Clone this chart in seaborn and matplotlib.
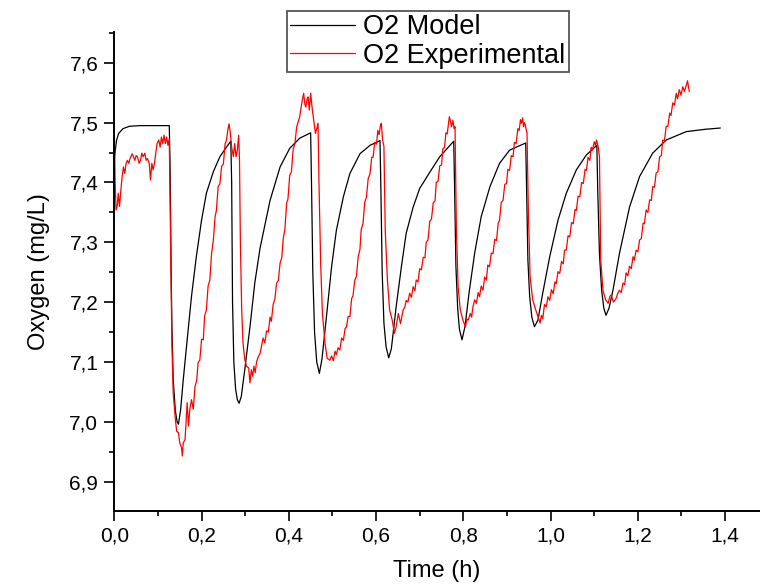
import numpy as np
import pandas as pd
import seaborn as sns
import matplotlib
matplotlib.use("Agg")
from matplotlib import pyplot as plt
from matplotlib.ticker import FuncFormatter, MultipleLocator

# O2 model (time in h, oxygen in mg/L)
model_t = [0.0, 0.005, 0.01, 0.02, 0.035, 0.06, 0.09, 0.126, 0.128, 0.130, 0.132, 0.135, 0.140, 0.144,
           0.147, 0.152, 0.158, 0.167, 0.177, 0.188, 0.200, 0.211, 0.227, 0.242, 0.257, 0.267, 0.269,
           0.271, 0.274, 0.278, 0.282, 0.286, 0.291, 0.299, 0.311, 0.322, 0.334, 0.357, 0.380, 0.402,
           0.425, 0.450, 0.452, 0.455, 0.459, 0.464, 0.470, 0.476, 0.487, 0.498, 0.509, 0.525, 0.540,
           0.563, 0.586, 0.609, 0.611, 0.614, 0.618, 0.623, 0.629, 0.635, 0.646, 0.658, 0.669, 0.685,
           0.700, 0.723, 0.746, 0.778, 0.780, 0.783, 0.787, 0.791, 0.797, 0.804, 0.813, 0.826, 0.841,
           0.861, 0.883, 0.906, 0.943, 0.945, 0.948, 0.952, 0.957, 0.963, 0.971, 0.982, 0.998, 1.017,
           1.036, 1.059, 1.082, 1.106, 1.108, 1.112, 1.117, 1.122, 1.127, 1.134, 1.143, 1.158, 1.181,
           1.204, 1.234, 1.265, 1.311, 1.356, 1.389]
model_o2 = [7.44, 7.47, 7.482, 7.49, 7.494, 7.495, 7.495, 7.495, 7.42, 7.27, 7.16, 7.07, 7.018, 7.0,
            6.996, 7.02, 7.07, 7.137, 7.21, 7.276, 7.337, 7.382, 7.418, 7.443, 7.459, 7.469, 7.40,
            7.20, 7.10, 7.055, 7.037, 7.031, 7.042, 7.087, 7.159, 7.232, 7.29, 7.37, 7.426, 7.457,
            7.474, 7.483, 7.40, 7.25, 7.15, 7.10, 7.081, 7.105, 7.181, 7.259, 7.32, 7.376, 7.415,
            7.448, 7.462, 7.470, 7.39, 7.25, 7.165, 7.125, 7.107, 7.122, 7.192, 7.259, 7.315, 7.359,
            7.39, 7.417, 7.443, 7.469, 7.39, 7.26, 7.19, 7.155, 7.137, 7.16, 7.215, 7.282, 7.343,
            7.393, 7.432, 7.454, 7.466, 7.39, 7.27, 7.21, 7.175, 7.159, 7.17, 7.215, 7.276, 7.337,
            7.382, 7.421, 7.446, 7.462, 7.39, 7.28, 7.22, 7.19, 7.178, 7.19, 7.22, 7.282, 7.359,
            7.41, 7.449, 7.471, 7.485, 7.489, 7.491]

# O2 experimental
exp_t = [0.000, 0.002, 0.004, 0.007, 0.009, 0.012, 0.015, 0.018, 0.021, 0.024, 0.027, 0.030, 0.033,
         0.036, 0.041, 0.044, 0.047, 0.050, 0.053, 0.057, 0.060, 0.063, 0.066, 0.070, 0.073, 0.076,
         0.080, 0.083, 0.086, 0.089, 0.092, 0.095, 0.098, 0.102, 0.105, 0.108, 0.111, 0.114, 0.117,
         0.120, 0.123, 0.126, 0.128, 0.130, 0.132, 0.135, 0.140, 0.143, 0.147, 0.150, 0.154, 0.156,
         0.158, 0.162, 0.164, 0.167, 0.170, 0.173, 0.177, 0.181, 0.185, 0.189, 0.192, 0.196, 0.200,
         0.204, 0.207, 0.211, 0.215, 0.219, 0.223, 0.227, 0.231, 0.234, 0.238, 0.242, 0.246, 0.250,
         0.254, 0.257, 0.260, 0.263, 0.266, 0.269, 0.273, 0.276, 0.279, 0.282, 0.285, 0.287, 0.289,
         0.292, 0.295, 0.299, 0.303, 0.308, 0.311, 0.314, 0.317, 0.320, 0.323, 0.326, 0.330, 0.334,
         0.337, 0.341, 0.345, 0.349, 0.353, 0.357, 0.360, 0.364, 0.368, 0.372, 0.376, 0.380, 0.384,
         0.387, 0.391, 0.395, 0.398, 0.402, 0.406, 0.410, 0.414, 0.418, 0.421, 0.425, 0.428, 0.431,
         0.434, 0.437, 0.439, 0.442, 0.444, 0.447, 0.450, 0.454, 0.458, 0.461, 0.464, 0.467, 0.469,
         0.473, 0.477, 0.483, 0.488, 0.494, 0.498, 0.502, 0.506, 0.509, 0.513, 0.517, 0.521, 0.525,
         0.529, 0.532, 0.536, 0.540, 0.544, 0.547, 0.551, 0.555, 0.559, 0.563, 0.566, 0.570, 0.574,
         0.578, 0.582, 0.586, 0.590, 0.593, 0.597, 0.601, 0.604, 0.607, 0.610, 0.612, 0.615, 0.618,
         0.621, 0.626, 0.631, 0.637, 0.642, 0.646, 0.651, 0.656, 0.662, 0.666, 0.669, 0.673, 0.677,
         0.681, 0.685, 0.689, 0.692, 0.696, 0.700, 0.704, 0.708, 0.712, 0.715, 0.719, 0.723, 0.727,
         0.731, 0.735, 0.738, 0.742, 0.746, 0.750, 0.753, 0.757, 0.760, 0.763, 0.765, 0.768, 0.770,
         0.773, 0.776, 0.779, 0.781, 0.784, 0.788, 0.793, 0.799, 0.805, 0.808, 0.811, 0.816, 0.819,
         0.822, 0.826, 0.830, 0.834, 0.837, 0.841, 0.845, 0.849, 0.853, 0.856, 0.860, 0.864, 0.868,
         0.872, 0.876, 0.880, 0.883, 0.887, 0.891, 0.895, 0.899, 0.902, 0.906, 0.910, 0.914, 0.917,
         0.921, 0.925, 0.928, 0.931, 0.933, 0.936, 0.938, 0.940, 0.942, 0.946, 0.949, 0.953, 0.959,
         0.966, 0.971, 0.976, 0.979, 0.982, 0.986, 0.990, 0.994, 0.998, 1.002, 1.006, 1.010, 1.013,
         1.017, 1.021, 1.025, 1.029, 1.032, 1.036, 1.040, 1.044, 1.048, 1.052, 1.056, 1.059, 1.063,
         1.067, 1.071, 1.075, 1.079, 1.082, 1.086, 1.090, 1.093, 1.096, 1.100, 1.103, 1.105, 1.109,
         1.112, 1.115, 1.120, 1.126, 1.132, 1.136, 1.139, 1.144, 1.150, 1.154, 1.158, 1.162, 1.166,
         1.170, 1.173, 1.177, 1.181, 1.185, 1.189, 1.192, 1.196, 1.200, 1.204, 1.208, 1.212, 1.215,
         1.219, 1.223, 1.227, 1.231, 1.234, 1.238, 1.242, 1.246, 1.250, 1.254, 1.257, 1.261, 1.265,
         1.269, 1.273, 1.276, 1.280, 1.284, 1.288, 1.291, 1.295, 1.299, 1.303, 1.307, 1.311, 1.314,
         1.316, 1.318]
exp_o2 = [7.49, 7.40, 7.354, 7.362, 7.382, 7.36, 7.387, 7.41, 7.426, 7.415, 7.432, 7.437, 7.432,
          7.44, 7.448, 7.443, 7.437, 7.445, 7.443, 7.432, 7.437, 7.449, 7.443, 7.449, 7.437, 7.44,
          7.432, 7.404, 7.432, 7.421, 7.432, 7.448, 7.465, 7.471, 7.459, 7.476, 7.465, 7.479, 7.465,
          7.476, 7.462, 7.473, 7.354, 7.243, 7.132, 7.048, 7.004, 6.984, 6.982, 6.965, 6.957, 6.943,
          6.965, 6.97, 6.993, 7.032, 6.993, 7.021, 7.037, 7.021, 7.059, 7.07, 7.099, 7.103, 7.138,
          7.137, 7.177, 7.187, 7.227, 7.237, 7.282, 7.303, 7.343, 7.353, 7.393, 7.398, 7.427, 7.431,
          7.465, 7.47, 7.487, 7.498, 7.482, 7.459, 7.443, 7.465, 7.443, 7.454, 7.479, 7.437, 7.298,
          7.187, 7.132, 7.104, 7.093, 7.09, 7.065, 7.087, 7.076, 7.093, 7.082, 7.1, 7.109, 7.114,
          7.125, 7.14, 7.132, 7.152, 7.15, 7.175, 7.168, 7.196, 7.205, 7.232, 7.236, 7.265, 7.275,
          7.305, 7.322, 7.366, 7.372, 7.412, 7.418, 7.456, 7.465, 7.493, 7.50, 7.51, 7.525, 7.538,
          7.549, 7.53, 7.526, 7.54, 7.543, 7.521, 7.549, 7.521, 7.499, 7.482, 7.49, 7.499, 7.404,
          7.265, 7.181, 7.131, 7.106, 7.103, 7.11, 7.102, 7.118, 7.112, 7.124, 7.12, 7.14, 7.136,
          7.156, 7.158, 7.176, 7.176, 7.206, 7.21, 7.236, 7.243, 7.276, 7.288, 7.322, 7.331, 7.367,
          7.376, 7.407, 7.414, 7.442, 7.442, 7.467, 7.464, 7.487, 7.48, 7.495, 7.499, 7.471, 7.46,
          7.32, 7.237, 7.187, 7.17, 7.148, 7.159, 7.181, 7.164, 7.187, 7.192, 7.203, 7.2, 7.215,
          7.208, 7.226, 7.219, 7.237, 7.234, 7.256, 7.254, 7.275, 7.274, 7.3, 7.304, 7.335, 7.339,
          7.366, 7.369, 7.4, 7.402, 7.428, 7.429, 7.456, 7.459, 7.483, 7.481, 7.493, 7.51, 7.504,
          7.493, 7.504, 7.49, 7.493, 7.326, 7.226, 7.187, 7.17, 7.159, 7.172, 7.17, 7.181, 7.175,
          7.192, 7.204, 7.198, 7.216, 7.209, 7.227, 7.22, 7.242, 7.237, 7.262, 7.259, 7.282, 7.281,
          7.305, 7.303, 7.332, 7.337, 7.367, 7.37, 7.397, 7.398, 7.422, 7.42, 7.445, 7.443, 7.467,
          7.465, 7.49, 7.487, 7.505, 7.499, 7.508, 7.493, 7.5, 7.496, 7.482, 7.354, 7.243, 7.204,
          7.187, 7.176, 7.165, 7.178, 7.172, 7.196, 7.192, 7.209, 7.203, 7.221, 7.214, 7.234, 7.231,
          7.251, 7.248, 7.268, 7.264, 7.287, 7.287, 7.311, 7.309, 7.333, 7.331, 7.355, 7.353, 7.377,
          7.376, 7.4, 7.398, 7.422, 7.42, 7.442, 7.437, 7.459, 7.454, 7.468, 7.462, 7.471, 7.46,
          7.443, 7.27, 7.22, 7.204, 7.198, 7.21, 7.212, 7.2, 7.206, 7.215, 7.22, 7.216, 7.232,
          7.229, 7.249, 7.244, 7.26, 7.256, 7.276, 7.27, 7.287, 7.284, 7.304, 7.306, 7.332, 7.331,
          7.354, 7.35, 7.371, 7.37, 7.393, 7.392, 7.416, 7.418, 7.443, 7.445, 7.471, 7.47, 7.494,
          7.494, 7.516, 7.512, 7.533, 7.529, 7.549, 7.54, 7.555, 7.546, 7.56, 7.552, 7.563, 7.57,
          7.56, 7.552]

x_ticks = [0.0, 0.2, 0.4, 0.6, 0.8, 1.0, 1.2, 1.4]
y_ticks = [6.9, 7.0, 7.1, 7.2, 7.3, 7.4, 7.5, 7.6]

sns.set_style("ticks")
plt.rcParams["font.family"] = ["Liberation Sans", "DejaVu Sans"]
plt.rcParams["text.color"] = "black"
plt.rcParams["axes.labelcolor"] = "black"
plt.rcParams["xtick.color"] = "black"
plt.rcParams["ytick.color"] = "black"
plt.rcParams["axes.edgecolor"] = "black"

fig = plt.figure(figsize=(7.6, 5.87), dpi=100)
ax = fig.add_axes([0.1504, 0.1295, 0.8496, 0.8155])

sns.lineplot(x=model_t, y=model_o2, ax=ax, color="black", linewidth=0.9,
             estimator=None, sort=False, label="O2 Model")
sns.lineplot(x=exp_t, y=exp_o2, ax=ax, color="#ff0000", linewidth=0.9,
             estimator=None, sort=False, label="O2 Experimental")

ax.set_xlim(0, 1.48)
ax.set_ylim(6.851, 7.651)
ax.set_xticks(x_ticks)
ax.set_yticks(y_ticks)
ax.xaxis.set_minor_locator(MultipleLocator(0.1))
ax.yaxis.set_minor_locator(MultipleLocator(0.05))
comma = FuncFormatter(lambda v, p: f"{v:.1f}".replace(".", ","))
ax.xaxis.set_major_formatter(comma)
ax.yaxis.set_major_formatter(comma)

for s in ["top", "right"]:
    ax.spines[s].set_visible(False)
for s in ["left", "bottom"]:
    ax.spines[s].set_linewidth(1.4)
ax.tick_params(which="major", length=7.5, width=1.2, labelsize=15, pad=4, direction="out")
ax.tick_params(which="minor", length=3.8, width=1.2, direction="out")

ax.set_xlabel("Time (h)", fontsize=17, labelpad=10)
ax.set_ylabel("Oxygen (mg/L)", fontsize=17, labelpad=14)

leg = ax.legend(loc="upper left", bbox_to_anchor=(0.267, 1.045), fontsize=19.5,
                frameon=True, fancybox=False, edgecolor="#555555", framealpha=1,
                handlelength=2.4, handletextpad=0.3, borderpad=0.12, labelspacing=0.1,
                borderaxespad=0)
leg.get_frame().set_linewidth(1.3)

fig.savefig("out.png", dpi=100)
